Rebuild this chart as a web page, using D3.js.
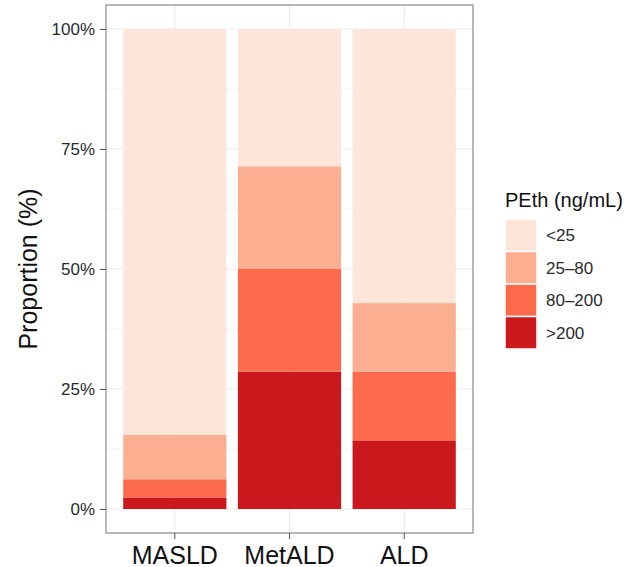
<!DOCTYPE html>
<html><head><meta charset="utf-8">
<script src="https://cdn.jsdelivr.net/npm/d3@7"></script>
<style>body{margin:0;background:#fff}svg{display:block}text{font-family:"Liberation Sans",Arial,Helvetica,sans-serif}</style>
</head><body><svg id="c" width="628" height="567"></svg>
<script>
const categories = ["MASLD", "MetALD", "ALD"];
const levels = ["<25", "25\u201380", "80\u2013200", ">200"];
const colors = ["#FEE5D9", "#FCAE91", "#FB6A4A", "#CB181D"];
// proportions (%) per category, order: >200, 80–200, 25–80, <25 (bottom to top)
const gt200 = [2.4, 28.6, 14.3];
const v80_200 = [3.8, 21.4, 14.3];
const v25_80 = [9.3, 21.4, 14.3];
const lt25 = [84.5, 28.6, 57.1];
const yTicks = [0, 25, 50, 75, 100];
const yTickLabels = ["0%", "25%", "50%", "75%", "100%"];

const svg = d3.select("#c");
const L = 106, R = 473, T = 5, B = 533;
const unit = (R - L) / 3.2;
const x = d3.scaleBand().domain(categories).range([L + 0.1 * unit, R - 0.1 * unit]).paddingInner(0.1).paddingOuter(0.05 / 0.9 * 0 + 0.05);
const y = d3.scaleLinear().domain([-5, 105]).range([B, T]);

// grid
const g = svg.append("g");
const minor = [12.5, 37.5, 62.5, 87.5];
g.selectAll(".mn").data(minor).enter().append("line")
  .attr("x1", L).attr("x2", R).attr("y1", d => y(d)).attr("y2", d => y(d))
  .attr("stroke", "#EBEBEB").attr("stroke-width", 0.6);
g.selectAll(".mj").data(yTicks).enter().append("line")
  .attr("x1", L).attr("x2", R).attr("y1", d => y(d)).attr("y2", d => y(d))
  .attr("stroke", "#EBEBEB").attr("stroke-width", 1.1);
g.selectAll(".vx").data(categories).enter().append("line")
  .attr("x1", d => x(d) + x.bandwidth() / 2).attr("x2", d => x(d) + x.bandwidth() / 2)
  .attr("y1", T).attr("y2", B).attr("stroke", "#EBEBEB").attr("stroke-width", 1.1);

// stacked data
const rows = categories.map((c, i) => ({cat: c, ">200": gt200[i], "80\u2013200": v80_200[i], "25\u201380": v25_80[i], "<25": lt25[i]}));
const stackKeys = [">200", "80\u2013200", "25\u201380", "<25"];
const series = d3.stack().keys(stackKeys)(rows);
const color = d3.scaleOrdinal().domain(levels).range(colors);
svg.append("g").selectAll("g").data(series).enter().append("g")
  .attr("fill", d => color(d.key))
  .selectAll("rect").data(d => d).enter().append("rect")
  .attr("x", d => x(d.data.cat)).attr("width", x.bandwidth())
  .attr("y", d => y(d[1])).attr("height", d => y(d[0]) - y(d[1]));

// border
svg.append("rect").attr("x", L).attr("y", T).attr("width", R - L).attr("height", B - T)
  .attr("fill", "none").attr("stroke", "#8a8a8a").attr("stroke-width", 1.2);

// y axis
const ya = svg.append("g").attr("transform", `translate(${L},0)`)
  .call(d3.axisLeft(y).tickValues(yTicks).tickSize(6).tickPadding(5).tickFormat((d, i) => yTickLabels[i]));
ya.select(".domain").remove();
ya.selectAll("line").attr("stroke", "#555");
ya.selectAll("text").attr("font-size", 17).attr("fill", "#2a2a2a").attr("font-family", "Liberation Sans, Arial, sans-serif");

// x axis
const xa = svg.append("g").attr("transform", `translate(0,${B})`)
  .call(d3.axisBottom(x).tickSize(6).tickPadding(5));
xa.select(".domain").remove();
xa.selectAll("line").attr("stroke", "#555");
xa.selectAll("text").attr("font-size", 25).attr("fill", "#111").attr("dy", "0.78em").attr("font-family", "Liberation Sans, Arial, sans-serif");

// y title
svg.append("text").attr("transform", `translate(37,${(T + B) / 2}) rotate(-90)`)
  .attr("text-anchor", "middle").attr("font-size", 25).attr("fill", "#111").text("Proportion (%)");

// legend
const lg = svg.append("g");
lg.append("text").attr("x", 505).attr("y", 207).attr("font-size", 20).attr("fill", "#111").text("PEth (ng/mL)");
levels.forEach((lv, i) => {
  const yy = 219 + i * 32.5;
  lg.append("rect").attr("x", 505).attr("y", yy).attr("width", 32).attr("height", 32.5)
    .attr("fill", color(lv)).attr("stroke", "#fff").attr("stroke-width", 1.5);
  lg.append("text").attr("x", 546).attr("y", yy + 16.25).attr("dy", "0.35em")
    .attr("font-size", 17).attr("fill", "#2a2a2a").text(lv);
});
</script></body></html>
